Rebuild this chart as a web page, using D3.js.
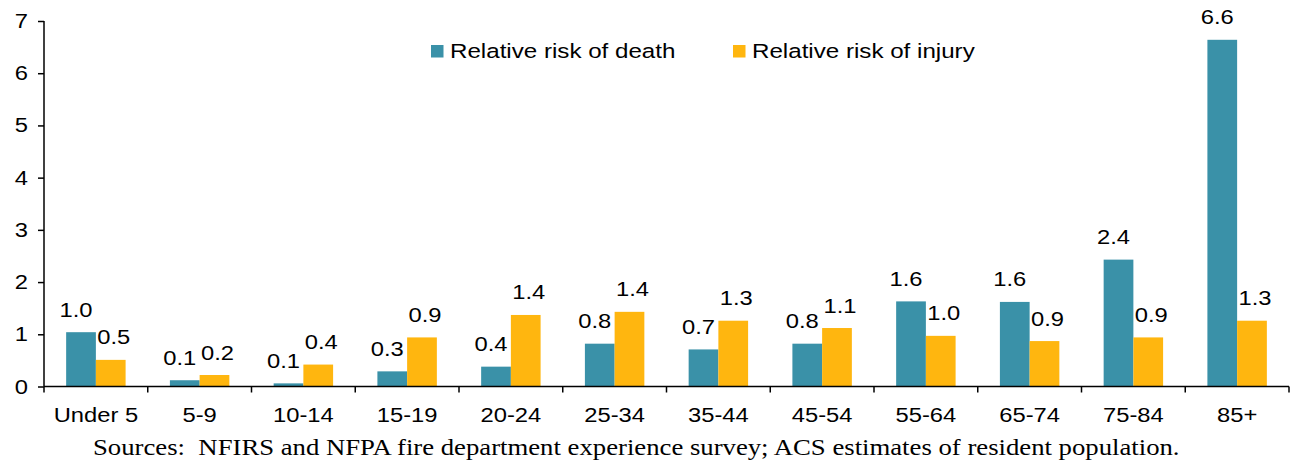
<!DOCTYPE html>
<html>
<head>
<meta charset="utf-8">
<script src="https://cdn.jsdelivr.net/npm/d3@7"></script>
<style>
  html, body { margin: 0; padding: 0; background: #fff; }
  svg { display: block; }
</style>
</head>
<body>
<svg id="chart" width="1297" height="463"></svg>
<script>
const categories = ["Under 5", "5-9", "10-14", "15-19", "20-24", "25-34", "35-44", "45-54", "55-64", "65-74", "75-84", "85+"];
const deathValues  = [1.04, 0.12, 0.06, 0.29, 0.38, 0.82, 0.71, 0.82, 1.63, 1.62, 2.43, 6.64];
const injuryValues = [0.51, 0.22, 0.42, 0.94, 1.37, 1.43, 1.26, 1.12, 0.97, 0.87, 0.94, 1.26];
const seriesNames = ["Relative risk of death", "Relative risk of injury"];
const seriesColors = ["#3A91A8", "#FFB60F"];
const yTicks = [0, 1, 2, 3, 4, 5, 6, 7];
const sourceText = "Sources:  NFIRS and NFPA fire department experience survey; ACS estimates of resident population.";

(function () {
const svg = d3.select("#chart");
const pLeft = 44, pRight = 1289, pTop = 21, pBottom = 386.5;
const SANS = "Liberation Sans, Arial, sans-serif";
const FS = 20.3, SX = 1.17;

// horizontally stretch text around its anchor point
function stretch(sel, s) {
  sel.each(function () {
    const t = d3.select(this);
    const xv = +t.attr("x") || 0;
    t.attr("x", 0).attr("transform", `translate(${xv},0) scale(${s},1)`);
  });
}

const x = d3.scaleBand().domain(categories).range([pLeft, pRight]).paddingInner(0).paddingOuter(0);
const xs = d3.scaleBand().domain([0, 1]).range([0, x.bandwidth()]).paddingInner(0).paddingOuter(0.745);
const y = d3.scaleLinear().domain([0, 7]).range([pBottom, pTop]);

const series = [deathValues, injuryValues];
const labelDx = [-5, 3];

series.forEach((vals, s) => {
  const g = svg.append("g");
  g.selectAll("rect").data(vals).enter().append("rect")
    .attr("x", (d, i) => x(categories[i]) + xs(s))
    .attr("width", xs.bandwidth())
    .attr("y", d => y(d))
    .attr("height", d => y(0) - y(d))
    .attr("fill", seriesColors[s]);
  const lbl = g.selectAll("text").data(vals).enter().append("text")
    .attr("x", (d, i) => x(categories[i]) + xs(s) + xs.bandwidth() / 2 + labelDx[s])
    .attr("y", d => y(d) - 15.5)
    .attr("text-anchor", "middle")
    .attr("font-family", SANS)
    .attr("font-size", FS)
    .attr("fill", "#000")
    .text(d => d.toFixed(1));
  stretch(lbl, SX);
});

// Y axis
const yAxis = d3.axisLeft(y).tickValues(yTicks).tickSize(6).tickPadding(10).tickFormat(d3.format("d"));
const yg = svg.append("g").attr("transform", `translate(${pLeft},0)`).call(yAxis);
yg.select(".domain").attr("d", `M0,${pTop}V${pBottom}`).attr("stroke", "#000").attr("stroke-width", 1.5);
yg.selectAll(".tick line").attr("stroke", "#000").attr("stroke-width", 1.5);
yg.selectAll(".tick text").attr("font-family", SANS).attr("font-size", FS).attr("fill", "#000");
stretch(yg.selectAll(".tick text"), SX);

// X axis
const xAxis = d3.axisBottom(x).tickSize(0).tickPadding(0);
const xg = svg.append("g").attr("transform", `translate(0,${pBottom})`).call(xAxis);
xg.select(".domain").attr("d", `M${pLeft},0H${pRight}`).attr("stroke", "#000").attr("stroke-width", 1.5);
xg.selectAll(".tick text").attr("font-family", SANS).attr("font-size", FS).attr("fill", "#000")
  .attr("y", 36).attr("dy", 0);
stretch(xg.selectAll(".tick text"), SX);
const bounds = categories.map(c => x(c)).concat([pRight]);
xg.selectAll("line.bound").data(bounds).enter().append("line")
  .attr("class", "bound")
  .attr("x1", d => d).attr("x2", d => d)
  .attr("y1", 0).attr("y2", 6)
  .attr("stroke", "#000").attr("stroke-width", 1.5);

// Legend
const legendX = [431, 733];
const lg = svg.append("g");
seriesNames.forEach((n, i) => {
  lg.append("rect").attr("x", legendX[i]).attr("y", 45).attr("width", 12.5).attr("height", 12.5).attr("fill", seriesColors[i]);
  const t = lg.append("text").attr("x", legendX[i] + 19).attr("y", 58.3)
    .attr("font-family", SANS).attr("font-size", FS).attr("fill", "#000").text(n);
  stretch(t, 1.19);
});

// Sources
const src = svg.append("text").attr("x", 93).attr("y", 455)
  .attr("font-family", "Liberation Serif, Times New Roman, serif").attr("font-size", 22.5)
  .attr("fill", "#000").style("white-space", "pre").text(sourceText);
stretch(src, 1.188);
})();
</script>
</body>
</html>
